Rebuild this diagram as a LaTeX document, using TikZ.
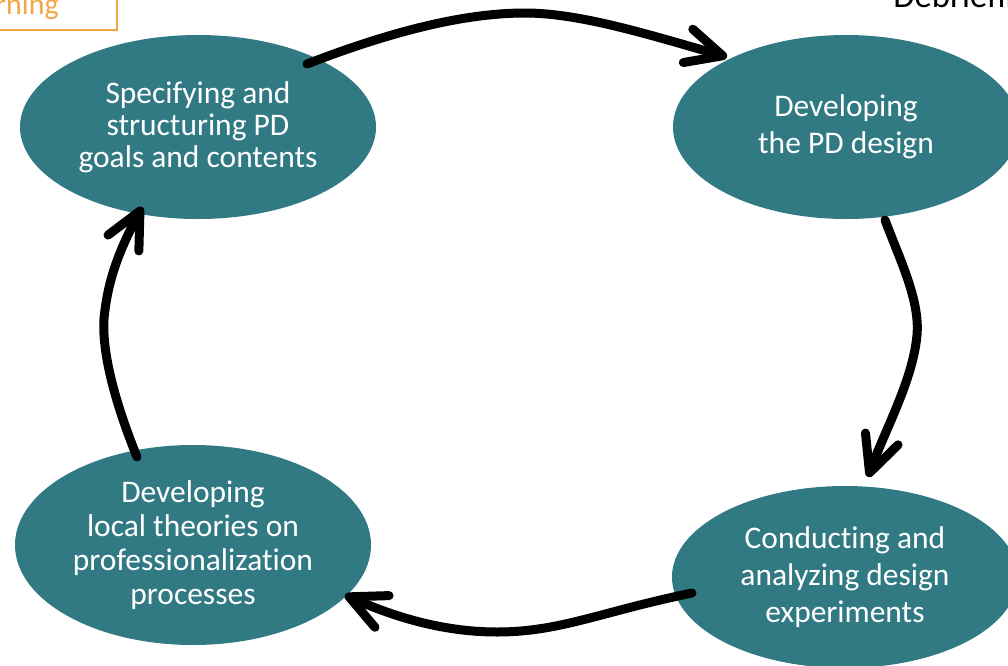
\documentclass[tikz,border=0pt]{standalone}
\usepackage{fontspec}
\setmainfont{Carlito}[Ligatures={NoCommon,NoContextual}]
\usetikzlibrary{shapes.geometric,arrows.meta,calc}

\definecolor{cycleteal}{RGB}{49,122,132}
\definecolor{tagorange}{RGB}{242,166,68}

\begin{document}
\begin{tikzpicture}[x=0.75pt,y=-0.75pt,
  phase/.style={ellipse, fill=cycleteal, text=white, inner sep=0pt, align=center},
  flow/.style={line width=6.75pt, line cap=round, line join=round,
    -{Straight Barb[length=27pt,width=26pt,round]}},
  tagbox/.style={draw=tagorange, line width=1.5pt}]
\useasboundingbox (0,0) rectangle (1008,665);

% corner labels, partly cut by the page edge
\draw[tagbox] (-20,-20) rectangle (117,30);
\node[anchor=base east, inner sep=0pt, text=tagorange,
      font=\fontsize{22.5pt}{26pt}\selectfont] (tagtext) at (59,14) {rning};
\node[anchor=base west, inner sep=0pt,
      font=\fontsize{26pt}{30pt}\selectfont] (debrief) at (893,7) {Debriefing};

% the four phases of the cycle
\node[phase, minimum width=267pt, minimum height=138pt,
      font=\fontsize{23.6pt}{24pt}\selectfont] (spec) at (198,127)
  {Specifying and\\structuring PD\\goals and contents};
\node[phase, minimum width=259.5pt, minimum height=138pt,
      font=\fontsize{23.6pt}{28pt}\selectfont] (design) at (846,127)
  {Developing\\the PD design};
\node[phase, minimum width=259.5pt, minimum height=136.5pt,
      font=\fontsize{23.6pt}{28pt}\selectfont] (exper) at (845,577)
  {Conducting and\\analyzing design\\experiments};
\node[phase, minimum width=267pt, minimum height=150pt,
      font=\fontsize{23.6pt}{25.5pt}\selectfont] (theory) at (193,545)
  {Developing\\local theories on\\professionalization\\processes};

% cycle arrows
\draw[flow] ($(spec)+(109,-63)$) .. controls (400,28) and (470,13) .. (525,13)
  .. controls (580,13) and (650,35) .. ($(design)+(-119,-70)$);
\draw[flow] ($(design)+(39,93)$) .. controls (900,260) and (920,300) .. (917,335)
  .. controls (913,380) and (885,430) .. ($(exper)+(23,-100)$);
\draw[flow] ($(exper)+(-153,16)$) .. controls (600,612) and (560,632) .. (497,632)
  .. controls (440,632) and (390,615) .. ($(theory)+(152,50)$);
\draw[flow] ($(theory)+(-56,-88)$) .. controls (110,390) and (100,340) .. (105,310)
  .. controls (110,270) and (125,240) .. ($(spec)+(-56,80)$);
\end{tikzpicture}
\end{document}
